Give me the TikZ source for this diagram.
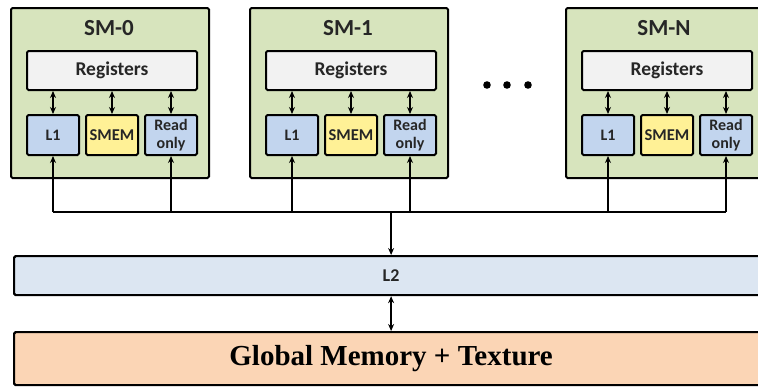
\documentclass[tikz,border=0pt]{standalone}
\usepackage{fontspec}
\setmainfont{Carlito}
\newfontfamily\globalfont{Liberation Serif}
\usetikzlibrary{arrows.meta,positioning}
\definecolor{smgreen}{RGB}{215,228,189}
\definecolor{regwhite}{RGB}{242,242,242}
\definecolor{cacheblue}{RGB}{194,213,238}
\definecolor{smemyellow}{RGB}{255,241,150}
\definecolor{ltwoblue}{RGB}{220,230,242}
\definecolor{globalpeach}{RGB}{251,213,181}
\colorlet{labelgray}{black!85}
\tikzset{
  smbox/.style={draw, line width=2pt, fill=smgreen, rounded corners=1.5pt, anchor=north west,
    minimum width=198pt, minimum height=170pt, inner sep=0pt},
  regbox/.style={draw, line width=2pt, fill=regwhite, rounded corners=1.5pt, anchor=north west,
    minimum width=170pt, minimum height=39pt, inner sep=0pt, text=labelgray,
    font=\bfseries\fontsize{19.5}{19.5}\selectfont},
  membox/.style={draw, line width=2pt, rounded corners=1.5pt, anchor=north west,
    minimum width=52pt, minimum height=40pt, inner sep=0pt, text=labelgray,
    font=\bfseries\fontsize{16}{17.5}\selectfont},
  widebox/.style={draw, line width=2.2pt, rounded corners=1.5pt, anchor=north west,
    minimum width=754pt, inner sep=0pt},
  link/.style={line width=1.5pt, >={Stealth[length=7pt, width=6pt]}}
}
\newcommand{\smblock}[3]{
\node[smbox] (#2) at (#1, 7) {};
\node[text=labelgray, font=\bfseries\fontsize{23}{23}\selectfont] (#2-title) at ({#1 + 99}, 28) {#3};
\node[regbox] (#2-reg) at ({#1 + 16}, 50) {Registers};
\node[membox, fill=cacheblue] (#2-l1) at ({#1 + 16}, 114) {L1};
\node[membox, fill=smemyellow, font=\bfseries\fontsize{16.5}{17}\selectfont] (#2-smem) at ({#1 + 75}, 114) {SMEM};
\node[membox, fill=cacheblue, align=center] (#2-ro) at ({#1 + 134}, 114) {Read\\only};
\foreach \m in {l1, smem, ro}
  \draw[link, <->] (#2-\m |- #2-reg.south) -- (#2-\m);
}

\begin{document}
\begin{tikzpicture}[x=1pt, y=-1pt]
\useasboundingbox (0, 0) rectangle (758, 389);

% the multiprocessors
\smblock{10}{sm0}{SM-0}
\smblock{249}{sm1}{SM-1}
\smblock{565}{smN}{SM-N}
\foreach \x in {487, 507, 528}
  \fill (\x, 85) circle[radius=3.8pt];

% shared levels
\node[widebox, fill=ltwoblue, minimum height=39pt, text=labelgray,
  font=\bfseries\fontsize{18}{18}\selectfont] (l2) at (13, 255) {L2};
\node[widebox, fill=globalpeach, minimum height=53pt,
  font=\globalfont\bfseries\fontsize{29}{29}\selectfont] (global) at (13, 331) {Global Memory + Texture};

% bus
\coordinate (busy) at (0, 212);
\draw[link] (sm0-l1 |- busy) -- (smN-ro |- busy);
\foreach \s in {sm0, sm1, smN}
  \foreach \m in {l1, ro}
    \draw[link, ->] (\s-\m |- busy) -- (\s-\m);
\draw[link, ->] (l2 |- busy) -- (l2);
\draw[link, <->] (l2) -- (global);
\end{tikzpicture}
\end{document}
